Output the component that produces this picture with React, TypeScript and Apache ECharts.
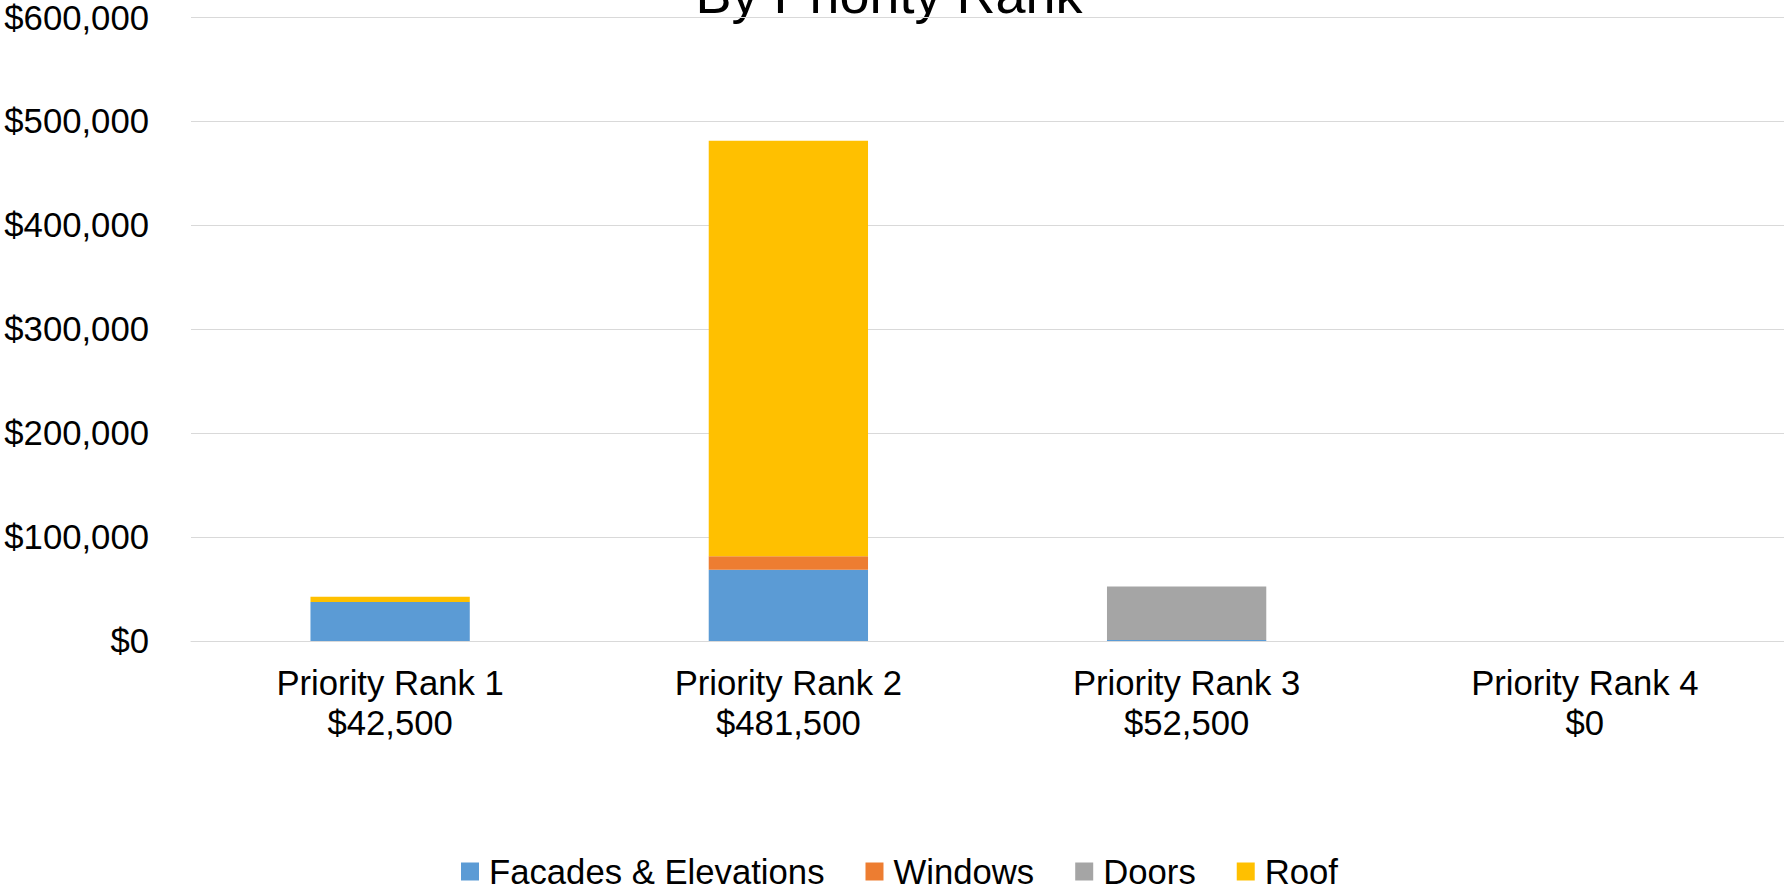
import React, { useEffect, useRef } from "react";
import * as echarts from "echarts";

const categories = ["Priority Rank 1", "Priority Rank 2", "Priority Rank 3", "Priority Rank 4"];
const facades = [37500, 68500, 1000, 0];
const windows = [0, 13000, 0, 0];
const doors = [0, 0, 51500, 0];
const roof = [5000, 400000, 0, 0];
const seriesNames = ["Facades & Elevations", "Windows", "Doors", "Roof"];
const colors = ["#5B9BD5", "#ED7D31", "#A5A5A5", "#FFC000"];
const titleText = "By Priority Rank";

const FONT = "Arial, 'Liberation Sans', sans-serif";
const fmt = (v: number) => "$" + Math.round(v).toLocaleString("en-US");

export default function App() {
  const ref = useRef<HTMLDivElement>(null);
  useEffect(() => {
    if (!ref.current) return;
    const chart = echarts.init(ref.current, undefined, { renderer: "svg" });
    const all = [facades, windows, doors, roof];
    const totals = categories.map((_, i) => all.reduce((s, a) => s + a[i], 0));
    const labels = categories.map((c, i) => c + "\n" + fmt(totals[i]));
    chart.setOption({
      animation: false,
      backgroundColor: "#ffffff",
      grid: { left: 191, right: 0, top: 17, bottom: 248, containLabel: false },
      graphic: [
        {
          type: "text",
          x: 889,
          y: -6,
          style: {
            text: titleText,
            font: `54px ${FONT}`,
            fill: "#000000",
            textAlign: "center",
            textVerticalAlign: "middle",
          },
        },
      ],
      legend: {
        left: 456,
        top: 849,
        itemWidth: 18,
        itemHeight: 18,
        itemGap: 41,
        icon: "rect",
        data: seriesNames,
        textStyle: { fontFamily: FONT, fontSize: 34.7, color: "#000000", padding: [0, 0, 0, 5] },
      },
      xAxis: {
        type: "category",
        data: labels,
        axisLine: { show: true, lineStyle: { color: "#d9d9d9", width: 1 } },
        axisTick: { show: false },
        axisLabel: {
          fontFamily: FONT,
          fontSize: 34.7,
          color: "#000000",
          lineHeight: 40,
          margin: 22,
          interval: 0,
        },
      },
      yAxis: {
        type: "value",
        min: 0,
        max: 600000,
        interval: 100000,
        axisLine: { show: false },
        axisTick: { show: false },
        splitLine: { lineStyle: { color: "#d9d9d9", width: 1 } },
        axisLabel: {
          fontFamily: FONT,
          fontSize: 34.7,
          color: "#000000",
          margin: 42,
          formatter: (v: number) => fmt(v),
        },
      },
      series: all.map((d, i) => ({
        name: seriesNames[i],
        type: "bar",
        stack: "total",
        data: d,
        barWidth: "40%",
        itemStyle: { color: colors[i] },
      })),
    });
    return () => chart.dispose();
  }, []);
  return (
    <div
      ref={ref}
      style={{ position: "fixed", left: 0, top: 0, width: 1784, height: 889, background: "#fff" }}
    />
  );
}
